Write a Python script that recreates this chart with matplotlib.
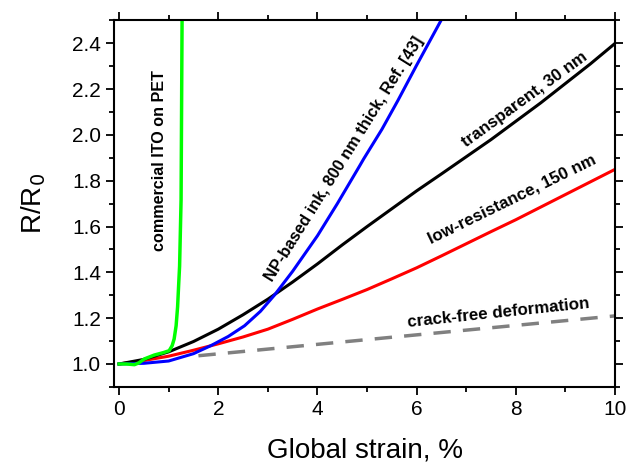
import matplotlib
matplotlib.use("Agg")
import matplotlib.pyplot as plt
from matplotlib.ticker import MultipleLocator

plt.rcParams['font.family'] = ['Liberation Sans', 'DejaVu Sans']

# commercial ITO on PET
ito_x = [0.0, 0.15, 0.31, 0.4, 0.51, 0.71, 0.9, 1.01, 1.07, 1.11, 1.15, 1.18, 1.2, 1.22, 1.25, 1.27]
ito_y = [1.0, 1.0, 0.997, 1.005, 1.022, 1.039, 1.05, 1.058, 1.08, 1.109, 1.167, 1.25, 1.34, 1.427, 1.717, 2.5]

# NP-based ink, 800 nm thick
np_x = [0.0, 0.5, 1.0, 1.5, 1.85, 2.2, 2.53, 2.85, 3.13, 3.5, 4.0, 4.4, 4.85, 4.93, 5.3, 5.62, 6.0, 6.49]
np_y = [1.0, 1.003, 1.013, 1.045, 1.08, 1.12, 1.167, 1.23, 1.30, 1.405, 1.56, 1.70, 1.865, 1.895, 2.025, 2.15, 2.305, 2.5]

# transparent, 30 nm
tr_x = [0, 0.5, 1, 1.5, 2, 2.5, 3, 3.5, 4, 4.5, 5, 5.5, 6, 6.5, 7, 7.5, 8, 8.5, 9, 9.5, 10]
tr_y = [1.0, 1.02, 1.053, 1.098, 1.152, 1.215, 1.283, 1.358, 1.437, 1.52, 1.60, 1.678, 1.756, 1.83, 1.905, 1.98, 2.06, 2.14, 2.225, 2.31, 2.40]

# low-resistance, 150 nm
lr_x = [0, 0.5, 1, 1.5, 2, 2.5, 3, 3.5, 4, 4.5, 5, 5.5, 6, 6.5, 7, 7.5, 8, 8.5, 9, 9.5, 10]
lr_y = [1.0, 1.015, 1.034, 1.06, 1.088, 1.118, 1.152, 1.195, 1.24, 1.282, 1.325, 1.372, 1.42, 1.472, 1.525, 1.578, 1.63, 1.685, 1.74, 1.795, 1.85]

# crack-free deformation
cf_x = [1.6, 10.0]
cf_y = [1.036, 1.21]

fig = plt.figure(figsize=(6.27, 4.65), dpi=100)
ax = fig.add_axes([0.182, 0.168, 0.799, 0.788])

ax.plot(cf_x, cf_y, color='#808080', lw=2.5, dashes=(5, 3.5))
ax.plot(lr_x, lr_y, color='#ff0000', lw=2.2)
ax.plot(tr_x, tr_y, color='black', lw=2.2)
ax.plot(np_x, np_y, color='#0000ff', lw=2.2)
ax.plot(ito_x, ito_y, color='#00ff00', lw=2.5)

ax.set_xlim(-0.1, 10)
ax.set_ylim(0.9, 2.5)
ax.xaxis.set_major_locator(MultipleLocator(2))
ax.xaxis.set_minor_locator(MultipleLocator(1))
ax.yaxis.set_minor_locator(MultipleLocator(0.1))
ax.yaxis.set_major_formatter(plt.FormatStrFormatter('%.1f'))
ax.set_yticks([1.0, 1.2, 1.4, 1.6, 1.8, 2.0, 2.2, 2.4])

ax.tick_params(which='both', direction='out', top=True, right=True, width=1.3)
ax.tick_params(which='major', length=6, labelsize=15)
ax.tick_params(which='minor', length=3.5)
for s in ax.spines.values():
    s.set_linewidth(1.5)

ax.set_xlabel('Global strain, %', fontsize=20, labelpad=13)
ax.set_ylabel('R/R$_0$', fontsize=20, labelpad=17)

tk = dict(fontsize=12.2, fontweight='bold', ha='center', va='baseline', rotation_mode='anchor')
ax.text(0.905, 1.887, 'commercial ITO on PET', rotation=90, fontsize=11.6, fontweight='bold',
        ha='center', va='baseline', rotation_mode='anchor')
ax.text(4.62, 1.885, 'NP-based ink, 800 nm thick, Ref. [43]', rotation=58, fontsize=11.8,
        fontweight='bold', ha='center', va='baseline', rotation_mode='anchor')
ax.text(8.22, 2.139, 'transparent, 30 nm', rotation=36, **tk)
ax.text(7.97, 1.703, 'low-resistance, 150 nm', rotation=26, **tk)
ax.text(7.65, 1.203, 'crack-free deformation', rotation=6, **tk)

fig.savefig('out.png', dpi=100)
